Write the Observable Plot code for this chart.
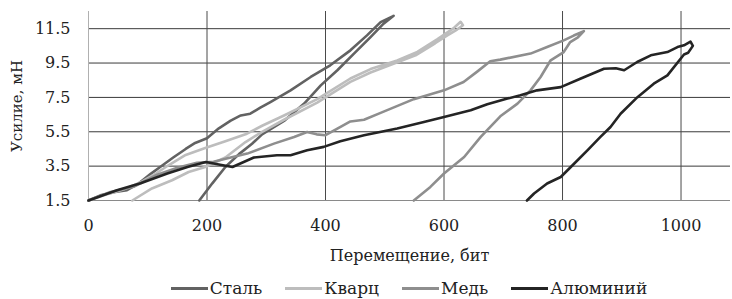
<!DOCTYPE html>
<html><head><meta charset="utf-8">
<script src="https://cdn.jsdelivr.net/npm/d3@7"></script>
<script src="https://cdn.jsdelivr.net/npm/@observablehq/plot@0.6"></script>
<style>
html,body{margin:0;padding:0;background:#fff;}
body{width:732px;height:299px;overflow:hidden;font-family:"DejaVu Serif",serif;}
#legend{display:flex;justify-content:center;align-items:center;height:31px;padding:10px 0 0 86px;box-sizing:border-box;font-size:17px;line-height:21px;color:#222;font-family:"DejaVu Serif",serif;}
.item{display:flex;align-items:center;margin:0 11.5px;}
.sw{display:inline-block;width:37px;height:3px;margin-right:2px;}
</style></head><body>
<div id="chart"></div>
<div id="legend"></div>
<script>
const seriesNames = ["Сталь", "Кварц", "Медь", "Алюминий"];
const seriesColors = ["#626262", "#bdbdbd", "#8e8e8e", "#242424"];
const xTicks = [0, 200, 400, 600, 800, 1000];
const yTicks = [1.5, 3.5, 5.5, 7.5, 9.5, 11.5];
const xLabel = "Перемещение, бит";
const yLabel = "Усилие, мН";

// [перемещение, усилие] — нагрузка, затем разгрузка
const stal = [[0,1.5],[20,1.8],[45,2.0],[65,2.1],[85,2.5],[105,3.05],[125,3.55],[143,4.0],[164,4.5],[180,4.85],[200,5.12],[220,5.7],[240,6.15],[257,6.45],[273,6.55],[290,6.9],[307,7.23],[341,7.91],[375,8.69],[408,9.37],[442,10.24],[470,11.11],[493,11.88],[515,12.25],
  [498,11.79],[476,11.01],[448,10.05],[420,9.08],[392,8.2],[364,7.14],[330,6.13],[293,5.35],[276,4.8],[254,4.2],[231,3.45],[209,2.5],[187,1.5]];
const kvarc = [[0,1.5],[30,1.85],[60,2.15],[90,2.6],[115,3.1],[135,3.55],[164,4.15],[197,4.55],[231,4.95],[265,5.35],[293,5.85],[330,6.45],[386,7.4],[442,8.6],[476,9.15],[521,9.65],[555,10.15],[589,10.9],[617,11.55],[628,11.9],
  [632,11.7],[622,11.45],[605,11.1],[585,10.65],[552,9.95],[518,9.5],[476,8.95],[442,8.4],[386,7.2],[330,6.2],[293,5.5],[265,4.9],[231,4.0],[197,3.45],[169,3.16],[141,2.68],[107,2.2],[74,1.5]];
const med = [[0,1.5],[37,2.0],[76,2.3],[116,3.0],[150,3.4],[183,3.7],[211,3.75],[240,4.0],[268,4.23],[313,4.81],[347,5.2],[369,5.49],[385,5.35],[400,5.3],[420,5.69],[442,6.1],[465,6.2],[493,6.6],[549,7.4],[600,7.91],[633,8.4],[656,9.0],[678,9.6],[695,9.7],[746,10.05],[774,10.43],[802,10.82],[819,11.1],[836,11.36],
  [826,11.0],[813,10.72],[802,10.14],[780,9.66],[763,8.69],[746,7.91],[724,7.14],[695,6.4],[662,5.2],[634,4.03],[600,3.07],[577,2.29],[549,1.5]];
const alum = [[0,1.5],[48,2.1],[88,2.5],[133,3.07],[167,3.45],[198,3.74],[220,3.6],[243,3.45],[279,4.0],[318,4.13],[341,4.13],[369,4.42],[397,4.62],[425,4.95],[465,5.3],[521,5.69],[566,6.07],[600,6.36],[645,6.75],[673,7.1],[707,7.43],[729,7.62],[757,7.91],[797,8.1],[830,8.59],[870,9.17],[890,9.2],[904,9.08],[926,9.56],[949,9.95],[977,10.14],[994,10.43],[1005,10.53],[1016,10.75],[1020,10.5],[1012,10.1],
  [1005,10.0],[977,8.78],[954,8.3],[926,7.5],[898,6.55],[881,5.78],[864,5.2],[842,4.42],[814,3.45],[797,2.87],[774,2.49],[752,1.91],[740,1.5]];

const seriesData = [stal, kvarc, med, alum];
const rows = seriesData.flatMap((arr, i) => arr.map(([x, y]) => ({x, y, s: seriesNames[i]})));

const chart = Plot.plot({
  width: 732, height: 268,
  marginLeft: 88, marginRight: 2, marginTop: 11, marginBottom: 68,
  style: {fontFamily: "'DejaVu Serif', serif", fontSize: "16px", color: "#222", background: "#fff"},
  x: {domain: [0, 1083.5]},
  y: {domain: [1.5, 12.5]},
  color: {domain: seriesNames, range: seriesColors},
  marks: [
    Plot.ruleY(yTicks.slice(1), {stroke: "#3a3a3a", strokeWidth: 1}),
    Plot.ruleX(xTicks.slice(1), {stroke: "#4a4a4a", strokeWidth: 1}),
    Plot.ruleX([0], {stroke: "#b0b0b0", strokeWidth: 1}),
    Plot.ruleY([1.5], {stroke: "#8a8a8a", strokeWidth: 1}),
    Plot.line(rows, {x: "x", y: "y", z: "s", stroke: "s", strokeWidth: 2.6, strokeLinejoin: "round", curve: "linear"}),
    Plot.axisX({ticks: xTicks, tickSize: 0, tickPadding: 19, tickFormat: d => String(d), label: null, fontSize: 16}),
    Plot.axisY({ticks: yTicks, tickSize: 0, tickPadding: 18, tickFormat: d => d.toFixed(1), label: null, fontSize: 16}),
    Plot.text([xLabel], {text: d => d, frameAnchor: "bottom", dy: 55, lineAnchor: "middle", textAnchor: "middle", fontSize: 16}),
    Plot.text([yLabel], {text: d => d, frameAnchor: "left", dx: -71, rotate: -90, lineAnchor: "middle", textAnchor: "middle", fontSize: 15})
  ]
});
document.getElementById("chart").appendChild(chart);

const legend = document.getElementById("legend");
seriesNames.forEach((n, i) => {
  const it = document.createElement("div");
  it.className = "item";
  const sw = document.createElement("span");
  sw.className = "sw";
  sw.style.background = seriesColors[i];
  const t = document.createElement("span");
  t.textContent = n;
  it.appendChild(sw); it.appendChild(t);
  legend.appendChild(it);
});
</script></body></html>
